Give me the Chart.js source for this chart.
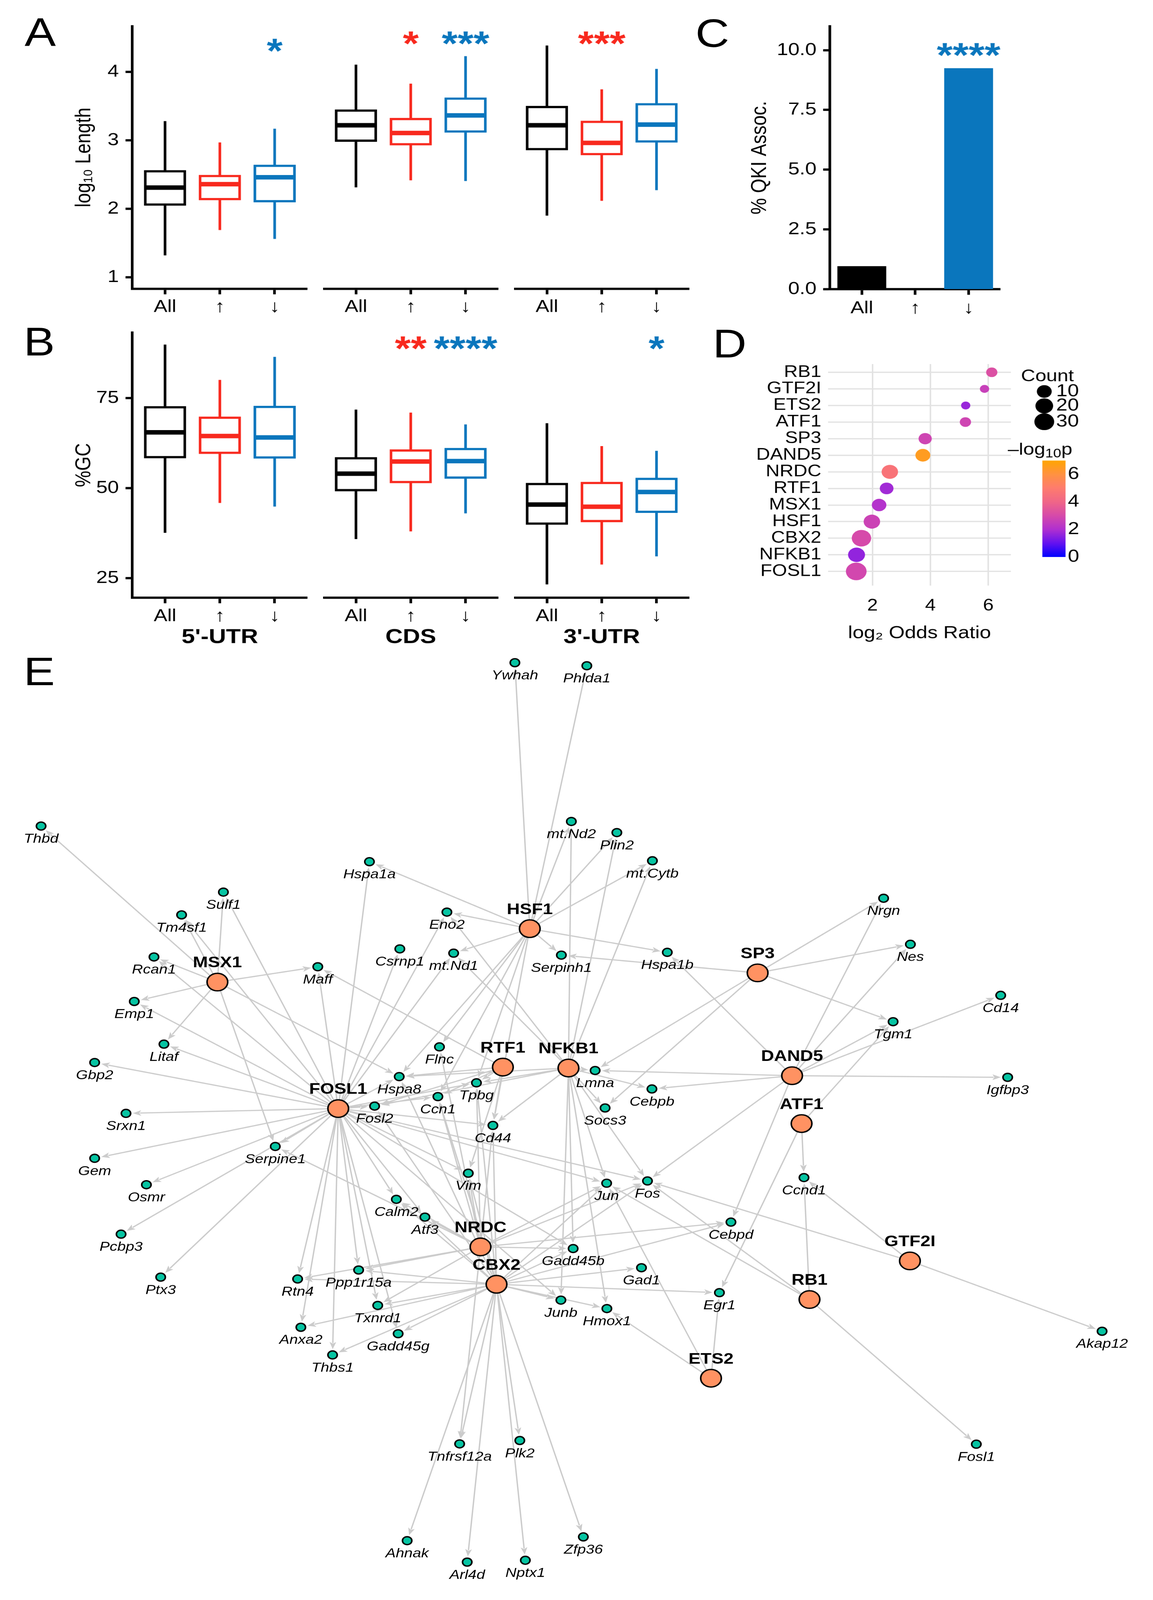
<!DOCTYPE html>
<html>
<head>
<meta charset="utf-8">
<script src="https://cdn.jsdelivr.net/npm/chart.js@4.4.1/dist/chart.umd.min.js"></script>
<style>
  html, body { margin: 0; padding: 0; background: #fff; overflow: hidden; }
  body { width: 100vw; height: 100vh; position: relative; }
  #fig { position: absolute; left: 0; top: 0; width: 960px; height: 1567.2px;
         transform-origin: 0 0;
         font-family: "Liberation Sans", Arial, Helvetica, sans-serif; }
  #fig canvas { position: absolute; }
  .tag { position: absolute; font-size: 39px; line-height: 39px; color: #000; }
</style>
</head>
<body>
<div id="fig">
  <div class="tag" style="left:20.5px;top:12.2px">A</div>
  <div class="tag" style="left:19.7px;top:315.4px">B</div>
  <div class="tag" style="left:579px;top:12.7px">C</div>
  <div class="tag" style="left:593.4px;top:316.5px">D</div>
  <div class="tag" style="left:19.7px;top:637.9px">E</div>
</div>
<script>
// ---- data -------------------------------------------------------------
const groups  = ['All', '↑', '↓'];
const regions = ["5'-UTR", 'CDS', "3'-UTR"];

// boxplot stats per group: [min, q1, median, q3, max]
const lenUTR5 = [[1.32, 2.05, 2.31, 2.56, 3.28], [1.69, 2.13, 2.36, 2.49, 2.97], [1.56, 2.10, 2.46, 2.64, 3.17]];
const lenCDS  = [[2.27, 2.92, 3.15, 3.37, 4.01], [2.37, 2.87, 3.04, 3.25, 3.74], [2.36, 3.05, 3.29, 3.54, 4.13]];
const lenUTR3 = [[1.87, 2.80, 3.15, 3.42, 4.28], [2.08, 2.73, 2.90, 3.21, 3.66], [2.23, 2.91, 3.16, 3.46, 3.95]];
const gcUTR5  = [[37.6, 58.4, 65.5, 72.7, 89.9], [45.9, 59.6, 64.5, 69.8, 80.1], [44.9, 58.3, 64.1, 72.8, 86.5]];
const gcCDS   = [[35.5, 48.6, 53.3, 57.7, 70.7], [37.6, 50.8, 56.6, 59.8, 69.9], [42.5, 52.0, 56.7, 60.2, 66.7]];
const gcUTR3  = [[23.2, 39.5, 44.9, 50.7, 67.0], [28.6, 40.2, 44.3, 51.0, 60.8], [30.8, 42.7, 48.3, 52.1, 59.5]];

const lenStars = [['', '', '*'], ['', '*', '***'], ['', '***', '']];
const gcStars  = [['', '', ''], ['', '**', '****'], ['', '', '*']];

const qkiPct   = [0.95, 0, 9.23];
const qkiStars = ['', '', '****'];

// enrichment (panel D), top to bottom
const tfNames   = ['RB1', 'GTF2I', 'ETS2', 'ATF1', 'SP3', 'DAND5', 'NRDC', 'RTF1', 'MSX1', 'HSF1', 'CBX2', 'NFKB1', 'FOSL1'];
const tfLogOR   = [6.12, 5.87, 5.22, 5.21, 3.82, 3.74, 2.60, 2.49, 2.23, 1.98, 1.62, 1.45, 1.44];
const tfCount   = [3, 2, 2, 3, 6, 10, 15, 7, 9, 15, 28, 17, 35];
const tfNegLogP = [3.2, 2.6, 1.7, 2.8, 2.8, 6.5, 4.6, 1.8, 2.1, 2.7, 3.0, 1.6, 2.9];

// network layout (panel E), same TF order as above
const tfNodeX = [674.0, 757.6, 592.0, 667.4, 630.8, 659.5, 400.1, 418.7, 181.0, 441.1, 413.4, 473.3, 281.6];
const tfNodeY = [1272.8, 1235.0, 1349.9, 1100.5, 952.9, 1053.6, 1221.3, 1045.2, 961.9, 909.6, 1257.9, 1046.1, 1085.8];

const geneNames = ['Ywhah', 'Phlda1', 'Thbd', 'mt.Nd2', 'Plin2', 'mt.Cytb', 'Hspa1a', 'Sulf1', 'Tm4sf1', 'Eno2',
  'Nrgn', 'Csrnp1', 'mt.Nd1', 'Serpinh1', 'Hspa1b', 'Nes', 'Rcan1', 'Maff', 'Emp1', 'Cd14',
  'Tgm1', 'Litaf', 'Flnc', 'Gbp2', 'Lmna', 'Hspa8', 'Tpbg', 'Igfbp3', 'Ccn1', 'Cebpb',
  'Fosl2', 'Srxn1', 'Socs3', 'Cd44', 'Serpine1', 'Gem', 'Vim', 'Jun', 'Fos', 'Osmr',
  'Ccnd1', 'Calm2', 'Atf3', 'Cebpd', 'Pcbp3', 'Gadd45b', 'Gad1', 'Ptx3', 'Rtn4', 'Ppp1r15a',
  'Egr1', 'Txnrd1', 'Junb', 'Hmox1', 'Akap12', 'Anxa2', 'Gadd45g', 'Thbs1', 'Tnfrsf12a', 'Plk2',
  'Fosl1', 'Ahnak', 'Zfp36', 'Arl4d', 'Nptx1'];
const geneX = [428.7, 488.6, 34.2, 475.7, 513.6, 543.2, 307.6, 186.0, 151.2, 372.1,
  735.7, 332.9, 377.7, 467.4, 555.6, 758.0, 128.2, 264.6, 111.8, 833.2,
  743.6, 136.5, 365.9, 78.8, 495.5, 332.4, 396.7, 839.0, 364.6, 542.8,
  311.9, 104.9, 503.8, 410.4, 229.2, 78.8, 389.9, 505.1, 539.1, 121.9,
  669.4, 330.0, 353.8, 608.6, 100.8, 477.2, 534.1, 133.8, 247.8, 298.6,
  599.0, 314.5, 467.0, 505.3, 917.6, 250.5, 331.5, 276.9, 382.7, 432.8,
  812.9, 339.0, 485.7, 389.0, 437.4];
const geneY = [649.1, 652.1, 809.1, 804.6, 815.5, 843.1, 844.0, 873.8, 896.1, 893.4,
  879.8, 929.4, 933.6, 935.5, 932.8, 924.9, 937.3, 946.9, 980.9, 974.9,
  1000.7, 1022.7, 1025.4, 1040.7, 1048.5, 1054.5, 1060.6, 1055.2, 1074.1, 1066.6,
  1083.4, 1090.5, 1085.2, 1102.3, 1122.9, 1134.5, 1149.1, 1158.9, 1156.7, 1160.4,
  1153.4, 1174.7, 1192.1, 1197.0, 1208.8, 1222.9, 1241.7, 1250.9, 1252.7, 1243.9,
  1266.1, 1278.6, 1273.4, 1281.7, 1303.9, 1300.0, 1306.3, 1327.1, 1414.2, 1410.9,
  1414.5, 1509.0, 1505.3, 1530.0, 1528.2];

// regulatory edges TF -> target genes
const tfTargets = [
  ['MSX1',  ['Thbd', 'Sulf1', 'Tm4sf1', 'Rcan1', 'Maff', 'Emp1', 'Litaf', 'Serpine1', 'Hspa8']],
  ['FOSL1', ['Tm4sf1', 'Sulf1', 'Rcan1', 'Emp1', 'Litaf', 'Gbp2', 'Srxn1', 'Gem', 'Osmr', 'Pcbp3', 'Ptx3',
             'Serpine1', 'Rtn4', 'Anxa2', 'Thbs1', 'Ppp1r15a', 'Txnrd1', 'Gadd45g', 'Calm2', 'Atf3', 'Vim',
             'Cd44', 'Ccn1', 'Fosl2', 'Hspa8', 'Maff', 'Hspa1a', 'Csrnp1', 'Eno2', 'mt.Nd1', 'Tpbg', 'Jun',
             'Fos', 'Gadd45b', 'Junb']],
  ['HSF1',  ['Ywhah', 'Phlda1', 'mt.Nd2', 'Plin2', 'mt.Cytb', 'Hspa1a', 'Eno2', 'mt.Nd1', 'Serpinh1',
             'Hspa1b', 'Hspa8', 'Tpbg', 'Ccn1', 'Cd44', 'Flnc']],
  ['NFKB1', ['mt.Nd2', 'Plin2', 'mt.Cytb', 'Eno2', 'mt.Nd1', 'Lmna', 'Cebpb', 'Socs3', 'Hspa8', 'Tpbg',
             'Fosl2', 'Cd44', 'Jun', 'Fos', 'Gadd45b', 'Junb', 'Hmox1']],
  ['RTF1',  ['Maff', 'Hspa8', 'Tpbg', 'Ccn1', 'Fosl2', 'Cd44', 'Vim']],
  ['SP3',   ['Nrgn', 'Nes', 'Tgm1', 'Serpinh1', 'Lmna', 'Socs3']],
  ['DAND5', ['Nrgn', 'Nes', 'Tgm1', 'Cd14', 'Igfbp3', 'Hspa1b', 'Lmna', 'Cebpb', 'Fos', 'Cebpd']],
  ['ATF1',  ['Tgm1', 'Ccnd1', 'Egr1']],
  ['GTF2I', ['Akap12', 'Ccnd1', 'Fos']],
  ['RB1',   ['Ccnd1', 'Fosl1', 'Jun', 'Fos']],
  ['ETS2',  ['Egr1', 'Jun', 'Hmox1']],
  ['NRDC',  ['Serpine1', 'Calm2', 'Atf3', 'Vim', 'Cd44', 'Gadd45b', 'Cebpd', 'Jun', 'Fos', 'Tpbg', 'Ccn1',
             'Rtn4', 'Ppp1r15a', 'Txnrd1', 'Tnfrsf12a', 'Flnc']],
  ['CBX2',  ['Tnfrsf12a', 'Plk2', 'Ahnak', 'Arl4d', 'Nptx1', 'Zfp36', 'Junb', 'Hmox1', 'Gad1', 'Egr1',
             'Gadd45b', 'Jun', 'Fos', 'Cd44', 'Vim', 'Atf3', 'Calm2', 'Txnrd1', 'Gadd45g', 'Ppp1r15a',
             'Rtn4', 'Anxa2', 'Thbs1', 'Cebpd', 'Tpbg', 'Ccn1', 'Hspa8', 'Fosl2']]
];

// ---- style -----------------------------------------------------------
// the figure is laid out on a 960 x 1567.2 grid and stretched to fill the window
const SX = window.innerWidth / 960;
const SY = window.innerHeight / 1567.2;
document.getElementById('fig').style.transform = `scale(${SX}, ${SY})`;
const DPR = Math.max(SX, SY);

const FONT = '"Liberation Sans", Arial, Helvetica, sans-serif';
const groupColors = ['#000000', '#F8291E', '#0A76BD'];
const EDGE = '#CBCBCB';
const GENE_FILL = '#06C4A2';
const TF_FILL = '#FF9262';
const AXW = 2.2;   // axis line width

Chart.defaults.font.family = FONT;
Chart.defaults.color = '#000';

// -log10 p colour ramp (blue -> purple -> pink -> orange), 0..7
const pStops = [[0, 0, 255], [100, 18, 240], [176, 48, 208], [214, 74, 170], [240, 102, 136],
                [254, 124, 110], [255, 146, 66], [255, 165, 0]];
function pColor(v) {
  const t = Math.max(0, Math.min(7, v));
  const i = Math.min(6, Math.floor(t)), f = t - i;
  const a = pStops[i], b = pStops[i + 1];
  return `rgb(${a.map((c, k) => Math.round(c + (b[k] - c) * f)).join(',')})`;
}
// count -> dot radius (area-type scale)
function sizeScale(c) { return 3.85 + 0.831 * Math.sqrt(Math.max(0, c - 2)); }

function place(id, left, top, w, h) {
  const c = document.createElement('canvas');
  c.id = id; c.width = w; c.height = h;
  Object.assign(c.style, { left: left + 'px', top: top + 'px', width: w + 'px', height: h + 'px' });
  document.getElementById('fig').appendChild(c);
  return c;
}

const fixTicks = vals => s => { s.ticks = vals.map(v => ({ value: v })); };
const tickGrid = { display: true, drawOnChartArea: false, drawTicks: true, tickLength: 5.5,
                   tickWidth: AXW, tickColor: '#000', offset: false };
const axisBorder = { display: true, color: '#000', width: AXW };

// whiskers + medians over the floating bars
function whiskerPlugin(stats) {
  return {
    id: 'whiskers',
    afterDatasetsDraw(chart) {
      const { ctx } = chart, y = chart.scales.y;
      chart.getDatasetMeta(0).data.forEach((bar, i) => {
        const [lo, q1, med, q3, hi] = stats[i];
        const half = bar.width / 2;
        ctx.save();
        ctx.strokeStyle = groupColors[i];
        ctx.lineWidth = AXW;
        ctx.beginPath();
        ctx.moveTo(bar.x, y.getPixelForValue(hi)); ctx.lineTo(bar.x, y.getPixelForValue(q3));
        ctx.moveTo(bar.x, y.getPixelForValue(q1)); ctx.lineTo(bar.x, y.getPixelForValue(lo));
        ctx.stroke();
        const ym = y.getPixelForValue(med);
        ctx.lineWidth = 4.4;
        ctx.beginPath(); ctx.moveTo(bar.x - half + 1, ym); ctx.lineTo(bar.x + half - 1, ym); ctx.stroke();
        ctx.restore();
      });
    }
  };
}

function starPlugin(stars, starY) {
  return {
    id: 'stars',
    afterDraw(chart) {
      const { ctx } = chart, x = chart.scales.x, y = chart.scales.y;
      ctx.save();
      ctx.font = `bold 34px ${FONT}`;
      ctx.textAlign = 'center';
      ctx.textBaseline = 'alphabetic';
      stars.forEach((s, i) => {
        if (!s) return;
        const m = ctx.measureText(s);
        const yc = y.getPixelForValue(starY);
        ctx.fillStyle = groupColors[i];
        ctx.fillText(s, x.getPixelForValue(i + 1), yc + (m.actualBoundingBoxAscent - m.actualBoundingBoxDescent) / 2);
      });
      ctx.restore();
    }
  };
}

// ---- panels A & B: faceted boxplots -------------------------------------
const facetBoxes = [{ left: 40, width: 216, yAxis: true }, { left: 268.6, width: 146 }, { left: 427.6, width: 146 }];

function boxRow(prefix, row, statsList, starsList) {
  statsList.forEach((stats, f) => {
    const fb = facetBoxes[f];
    new Chart(place(prefix + f, fb.left, row.top, fb.width, row.height), {
      type: 'bar',
      data: { datasets: [{
        data: stats.map((s, i) => ({ x: i + 1, y: [s[1], s[3]] })),
        backgroundColor: '#fff',
        borderColor: groupColors,
        borderWidth: AXW,
        borderSkipped: false,
        barThickness: 34.5
      }] },
      options: {
        responsive: false, animation: false, devicePixelRatio: DPR,
        layout: { autoPadding: false, padding: { top: row.padTop } },
        plugins: { legend: { display: false }, tooltip: { enabled: false } },
        scales: {
          x: {
            type: 'linear', min: 0.4, max: 3.6, offset: false,
            afterBuildTicks: fixTicks([1, 2, 3]),
            afterFit: s => { s.height = row.axisH; },
            ticks: { callback: v => groups[Math.round(v) - 1], font: { size: 17 }, color: '#000',
                     padding: 2.5, autoSkip: false, maxRotation: 0 },
            grid: tickGrid, border: axisBorder,
            title: row.facetTitles
              ? { display: true, text: row.facetTitles[f], color: '#000',
                  font: { size: 20, weight: 'bold' }, padding: { top: 0, bottom: 4 } }
              : { display: false }
          },
          y: {
            display: !!fb.yAxis,
            min: row.yMin, max: row.yMax, beginAtZero: false,
            afterBuildTicks: fixTicks(row.yTicks),
            afterFit: s => { s.width = fb.yAxis ? 70 : 0; },
            ticks: { font: { size: 17 }, color: '#000', padding: 5.5 },
            grid: tickGrid, border: axisBorder,
            title: { display: true, text: row.yTitle, color: '#000', font: { size: 18 },
                     padding: { top: 19.2, bottom: 0 } }
          }
        }
      },
      plugins: [whiskerPlugin(stats), starPlugin(starsList[f], row.starY)]
    });
  });
}

boxRow('a', { top: 10, height: 305, padTop: 8, axisH: 32.5, yMin: 0.834, yMax: 4.665,
              yTicks: [1, 2, 3, 4], yTitle: 'log₁₀ Length', starY: 4.38, facetTitles: null },
       [lenUTR5, lenCDS, lenUTR3], lenStars);
boxRow('b', { top: 310, height: 330, padTop: 10, axisH: 54.8, yMin: 19.58, yMax: 93.25,
              yTicks: [25, 50, 75], yTitle: '%GC', starY: 88.7, facetTitles: regions },
       [gcUTR5, gcCDS, gcUTR3], gcStars);

// ---- panel C: bar chart -----------------------------------------------
new Chart(place('c', 600, 10, 233, 305), {
  type: 'bar',
  data: { datasets: [{
    data: qkiPct.map((v, i) => ({ x: i + 1, y: v })),
    backgroundColor: qkiPct.map((v, i) => (v > 0 ? groupColors[i] : 'rgba(0,0,0,0)')),
    borderWidth: 0, barThickness: 40
  }] },
  options: {
    responsive: false, animation: false, devicePixelRatio: DPR,
    layout: { autoPadding: false, padding: { top: 8.7 } },
    plugins: { legend: { display: false }, tooltip: { enabled: false } },
    scales: {
      x: {
        type: 'linear', min: 0.4, max: 3.6, offset: false,
        afterBuildTicks: fixTicks([1, 2, 3]),
        afterFit: s => { s.height = 32; },
        ticks: { callback: v => groups[Math.round(v) - 1], font: { size: 17 }, color: '#000',
                 padding: 3.1, autoSkip: false, maxRotation: 0 },
        grid: tickGrid, border: axisBorder
      },
      y: {
        min: 0, max: 11,
        afterBuildTicks: fixTicks([0, 2.5, 5, 7.5, 10]),
        afterFit: s => { s.width = 90.8; },
        ticks: { callback: v => v.toFixed(1), font: { size: 17 }, color: '#000', padding: 5.5 },
        grid: tickGrid, border: axisBorder,
        title: { display: true, text: '% QKI Assoc.', color: '#000', font: { size: 18 },
                 padding: { top: 21.9, bottom: 0 } }
      }
    }
  },
  plugins: [starPlugin(qkiStars, 10.0)]
});

// ---- panel D: dot plot ------------------------------------------------
const dLegend = {
  id: 'dLegend',
  afterDraw(chart) {
    const { ctx, chartArea: ca } = chart;
    const R = ca.right, T = ca.top;
    ctx.save();
    ctx.fillStyle = '#000';
    ctx.textBaseline = 'middle';
    ctx.textAlign = 'left';
    ctx.font = `16.5px ${FONT}`;
    ctx.fillText('Count', R + 8.4, T + 12.5);
    [10, 20, 30].forEach((c, i) => {
      const cy = T + [26.9, 41, 56.5][i];
      ctx.beginPath(); ctx.arc(R + 27.8, cy, sizeScale(c), 0, Math.PI * 2); ctx.fill();
      ctx.font = `17px ${FONT}`;
      ctx.fillText(String(c), R + 37.7, cy);
    });
    // -log10 p title
    ctx.font = `16.5px ${FONT}`;
    let x = R - 2.6; const ty = T + 84.1;
    ctx.fillText('–log', x, ty); x += ctx.measureText('–log').width;
    ctx.font = `12px ${FONT}`;
    ctx.fillText('10', x, ty + 4); x += ctx.measureText('10').width;
    ctx.font = `16.5px ${FONT}`;
    ctx.fillText('p', x, ty);
    // colour bar
    const bx = R + 26.2, bw = 19.3, top = T + 94.5, bot = T + 188.9;
    const g = ctx.createLinearGradient(0, bot, 0, top);
    pStops.forEach((s, i) => g.addColorStop(i / 7, `rgb(${s.join(',')})`));
    ctx.fillStyle = g;
    ctx.fillRect(bx, top, bw, bot - top);
    ctx.fillStyle = '#000';
    ctx.font = `17px ${FONT}`;
    [0, 2, 4, 6].forEach(v => ctx.fillText(String(v), R + 47.4, bot - v * (bot - top) / 7));
    ctx.restore();
  }
};

const softGrid = { color: '#E2E2E2', lineWidth: 1.25, drawTicks: false };
new Chart(place('d', 600, 310, 310, 330), {
  type: 'bubble',
  data: { datasets: [{
    data: tfNames.map((n, i) => ({ x: tfLogOR[i], y: i, r: sizeScale(tfCount[i]) })),
    backgroundColor: tfNegLogP.map(pColor), borderWidth: 0
  }] },
  options: {
    responsive: false, animation: false, devicePixelRatio: DPR,
    layout: { autoPadding: false, padding: { top: 46.5, right: 68.4 } },
    plugins: { legend: { display: false }, tooltip: { enabled: false } },
    scales: {
      x: {
        type: 'linear', min: 0.47, max: 6.78,
        afterBuildTicks: fixTicks([2, 4, 6]),
        afterFit: s => { s.height = 66.7; },
        ticks: { font: { size: 16 }, color: '#000', padding: 10.5, autoSkip: false, maxRotation: 0 },
        grid: softGrid, border: { display: false },
        title: { display: true, text: 'log₂ Odds Ratio', color: '#000', font: { size: 17 },
                 padding: { top: 0, bottom: 9.8 } }
      },
      y: {
        type: 'linear', reverse: true, min: -0.5, max: 12.85,
        afterBuildTicks: fixTicks(tfNames.map((n, i) => i)),
        afterFit: s => { s.width = 89.5; },
        ticks: { callback: v => tfNames[v], font: { size: 16 }, color: '#000', padding: 5.7, autoSkip: false },
        grid: softGrid, border: { display: false }
      }
    }
  },
  plugins: [dLegend]
});

// ---- panel E: regulatory network ---------------------------------------
const GENE_R = 3.9, TF_R = 8.6;
const edgePlugin = {
  id: 'edges',
  beforeDatasetsDraw(chart) {
    const { ctx } = chart, sx = chart.scales.x, sy = chart.scales.y;
    ctx.save();
    ctx.strokeStyle = EDGE; ctx.fillStyle = EDGE; ctx.lineWidth = 1.15;
    tfTargets.forEach(([tf, genes]) => {
      const t = tfNames.indexOf(tf);
      const x1 = sx.getPixelForValue(tfNodeX[t]), y1 = sy.getPixelForValue(tfNodeY[t]);
      genes.forEach(gn => {
        const k = geneNames.indexOf(gn);
        if (k < 0) return;
        const x2 = sx.getPixelForValue(geneX[k]), y2 = sy.getPixelForValue(geneY[k]);
        const L = Math.hypot(x2 - x1, y2 - y1), ux = (x2 - x1) / L, uy = (y2 - y1) / L;
        const tipX = x2 - ux * (GENE_R + 1.8), tipY = y2 - uy * (GENE_R + 1.8);
        const baseX = tipX - ux * 7, baseY = tipY - uy * 7;
        ctx.beginPath();
        ctx.moveTo(x1 + ux * TF_R, y1 + uy * TF_R);
        ctx.lineTo(baseX + ux * 1, baseY + uy * 1);
        ctx.stroke();
        ctx.beginPath();
        ctx.moveTo(tipX, tipY);
        ctx.lineTo(baseX - uy * 2.8, baseY + ux * 2.8);
        ctx.lineTo(baseX + ux * 1.6, baseY + uy * 1.6);
        ctx.lineTo(baseX + uy * 2.8, baseY - ux * 2.8);
        ctx.closePath();
        ctx.fill();
      });
    });
    ctx.restore();
  }
};
const nodeLabels = {
  id: 'nodeLabels',
  afterDatasetsDraw(chart) {
    const { ctx } = chart, sx = chart.scales.x, sy = chart.scales.y;
    ctx.save();
    ctx.fillStyle = '#000'; ctx.textAlign = 'center'; ctx.textBaseline = 'middle';
    ctx.font = `italic 12.7px ${FONT}`;
    geneNames.forEach((g, i) => ctx.fillText(g, sx.getPixelForValue(geneX[i]), sy.getPixelForValue(geneY[i]) + 12.8));
    ctx.font = `bold 15px ${FONT}`;
    tfNames.forEach((t, i) => ctx.fillText(t, sx.getPixelForValue(tfNodeX[i]), sy.getPixelForValue(tfNodeY[i]) - 18.5));
    ctx.restore();
  }
};

new Chart(place('e', 0, 630, 960, 937), {
  type: 'scatter',
  data: { datasets: [
    { data: geneNames.map((g, i) => ({ x: geneX[i], y: geneY[i] })),
      pointRadius: GENE_R, pointBackgroundColor: GENE_FILL, pointBorderColor: '#000', pointBorderWidth: 1.3 },
    { data: tfNames.map((t, i) => ({ x: tfNodeX[i], y: tfNodeY[i] })),
      pointRadius: TF_R, pointBackgroundColor: TF_FILL, pointBorderColor: '#000', pointBorderWidth: 1.3 }
  ] },
  options: {
    responsive: false, animation: false, devicePixelRatio: DPR,
    layout: { autoPadding: false, padding: 0 },
    plugins: { legend: { display: false }, tooltip: { enabled: false } },
    scales: {
      x: { type: 'linear', display: false, min: 0, max: 960 },
      y: { type: 'linear', display: false, min: 630, max: 1567, reverse: true }
    }
  },
  plugins: [edgePlugin, nodeLabels]
});
</script>
</body>
</html>
